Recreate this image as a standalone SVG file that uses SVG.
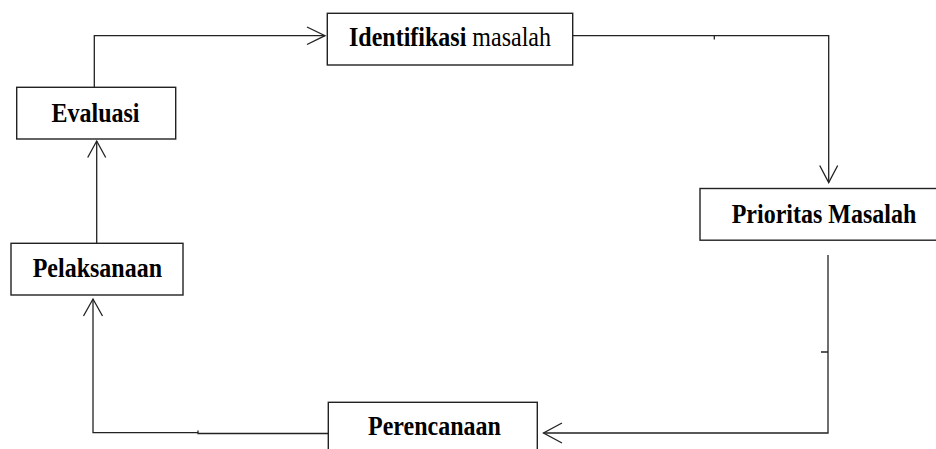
<svg xmlns="http://www.w3.org/2000/svg" width="936" height="449" viewBox="0 0 936 449">
<style>
.box{fill:#fff;stroke:#222;stroke-width:1.4}
.ln{fill:none;stroke:#222;stroke-width:1.3}
.t{font-family:'Liberation Serif','Times New Roman',Times,serif;font-size:24px;fill:#000}
.b{font-weight:bold}
</style>
<rect width="936" height="449" fill="#fff"/>
<g id="connectors">
<path class="ln" d="M94.3 87.3 V35.7 H325"/>
<path class="ln" d="M307 27 L325 35.7 L307 44.5"/>
<path class="ln" d="M572.7 35.7 H828.7 V182.5"/>
<path class="ln" d="M714.3 35.7 V39.5"/>
<path class="ln" d="M819.7 165.5 L828.7 182.5 L837.7 165.5"/>
<path class="ln" d="M828 255 V352 M821 352 H828 V433 H543.5"/>
<path class="ln" d="M562 423 L543.5 433 L562 443"/>
<path class="ln" d="M328.3 433.5 H198 V430.5 M198 432.7 H93 V299"/>
<path class="ln" d="M83.5 316 L93 299 L102.5 316"/>
<path class="ln" d="M96.7 243.3 V141"/>
<path class="ln" d="M87.7 157.5 L96.7 141 L105.7 157.5"/>
</g>
<g id="identifikasi">
<rect class="box" x="327.3" y="13.3" width="245.4" height="51.7"/>
<text class="t" transform="translate(349 46) scale(1 1.15)"><tspan class="b">Identifikasi</tspan> masalah</text>
</g>
<g id="evaluasi">
<rect class="box" x="16.7" y="87.3" width="159" height="51.7"/>
<text class="t b" transform="translate(51.5 121.7) scale(1 1.15)">Evaluasi</text>
</g>
<g id="prioritas">
<rect class="box" x="700" y="188.5" width="246" height="51.7"/>
<text class="t b" transform="translate(731.7 222.7) scale(1 1.15)">Prioritas Masalah</text>
</g>
<g id="pelaksanaan">
<rect class="box" x="11" y="243.3" width="172" height="51.7"/>
<text class="t b" transform="translate(32.7 276.7) scale(1 1.15)">Pelaksanaan</text>
</g>
<g id="perencanaan">
<rect class="box" x="328.3" y="402.3" width="209" height="60"/>
<text class="t b" transform="translate(368 435) scale(1 1.15)">Perencanaan</text>
</g>
</svg>
